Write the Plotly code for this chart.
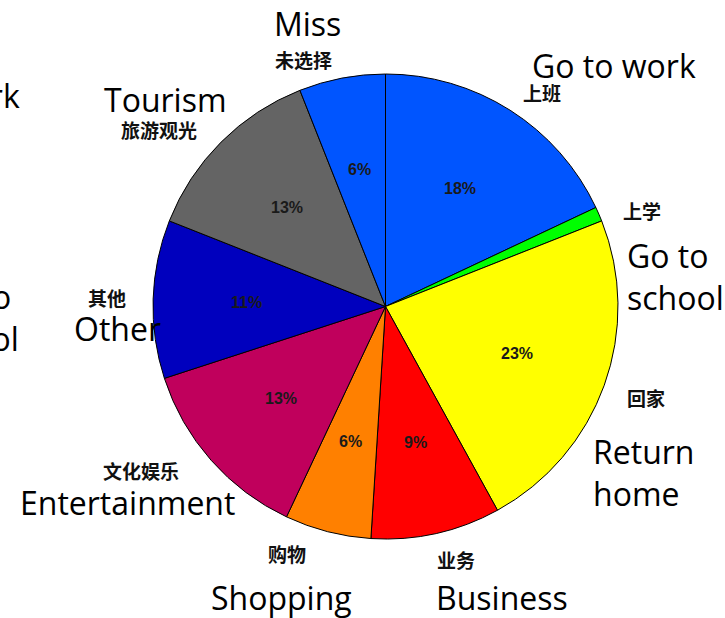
import math
import plotly.graph_objects as go

# Trip purposes, clockwise from 12 o'clock
labels_en = ["Go to work", "Go to school", "Return home", "Business", "Shopping",
             "Entertainment", "Other", "Tourism", "Miss"]
labels_zh = ["上班", "上学", "回家", "业务", "购物", "文化娱乐", "其他", "旅游观光", "未选择"]
shares = [18, 1, 23, 9, 6, 13, 11, 13, 6]
slice_colors = ["#0055FF", "#00FF00", "#FFFF00", "#FF0000", "#FF8000",
                "#C0005C", "#0000BE", "#646464", "#0055FF"]

W, H = 725, 618

# pie placement in pixels
pie_left, pie_right, pie_top, pie_bottom = 153, 618, 72, 541
cx, cy = (pie_left + pie_right) / 2, (pie_top + pie_bottom) / 2
radius = min(pie_right - pie_left, pie_bottom - pie_top) / 2

fig = go.Figure(go.Pie(
    labels=labels_en,
    values=shares,
    sort=False,
    direction="clockwise",
    rotation=0,
    marker=dict(colors=slice_colors, line=dict(color="#000000", width=1)),
    textinfo="none",
    hoverinfo="label+percent",
    showlegend=False,
    domain=dict(x=[pie_left / W, pie_right / W], y=[1 - pie_bottom / H, 1 - pie_top / H]),
))

annotations = []

# percentage labels on each slice's bisector, 60% of the way out;
# the tiny school slice stays unlabeled
total = sum(shares)
cum = 0.0
for v in shares:
    theta = math.radians((cum + v / 2) / total * 360)
    cum += v
    if v < 2:
        continue
    px = cx + 0.6 * radius * math.sin(theta)
    py = cy - 0.6 * radius * math.cos(theta)
    annotations.append(dict(
        text=f"<b>{round(v / total * 100)}%</b>", x=px / W, y=1 - py / H,
        xref="paper", yref="paper", xanchor="center", yanchor="middle",
        showarrow=False,
        font=dict(family="Liberation Sans", size=16, color="#1a1a1a"),
    ))

# caption placement (pixel centres) for the Chinese and English labels
zh_pos = [(542, 93), (642, 210), (646, 397), (456, 559), (287, 553),
          (141, 470), (107, 297), (159, 129), (303, 59)]
en_pos = [(614, 66, "center"), (625, 277, "left"), (591, 472, "left"),
          (502, 597, "center"), (281, 597, "center"), (128, 502, "center"),
          (117, 329, "center"), (165, 100, "center"), (307, 24, "center")]
en_text = ["Go to work", "Go to<br>school", "Return<br>home", "Business", "Shopping",
           "Entertainment", "Other", "Tourism", "Miss"]

for name, (px, py) in zip(labels_zh, zh_pos):
    annotations.append(dict(
        text=f"<b>{name}</b>", x=px / W, y=1 - py / H, xref="paper", yref="paper",
        xanchor="center", yanchor="middle", showarrow=False,
        font=dict(family="Noto Sans CJK SC", size=19, color="#111111"),
    ))
for txt, (px, py, anchor) in zip(en_text, en_pos):
    annotations.append(dict(
        text=txt, x=px / W, y=1 - py / H, xref="paper", yref="paper",
        xanchor=anchor, yanchor="middle", align=anchor,
        showarrow=False,
        font=dict(family="Open Sans", size=32, color="#000000"),
    ))

# captions running in from the left edge
annotations.append(dict(
    text="Go to work", x=22 / W, y=1 - 95 / H, xref="paper", yref="paper",
    xanchor="right", yanchor="middle", showarrow=False,
    font=dict(family="Open Sans", size=32, color="#000000"),
))
annotations.append(dict(
    text="Go to<br>school", x=21 / W, y=1 - 317 / H, xref="paper", yref="paper",
    xanchor="right", yanchor="middle", align="center", showarrow=False,
    font=dict(family="Open Sans", size=32, color="#000000"),
))

fig.update_layout(
    width=W, height=H,
    margin=dict(l=0, r=0, t=0, b=0),
    paper_bgcolor="white",
    plot_bgcolor="white",
    annotations=annotations,
)

fig.write_html("out.html")
